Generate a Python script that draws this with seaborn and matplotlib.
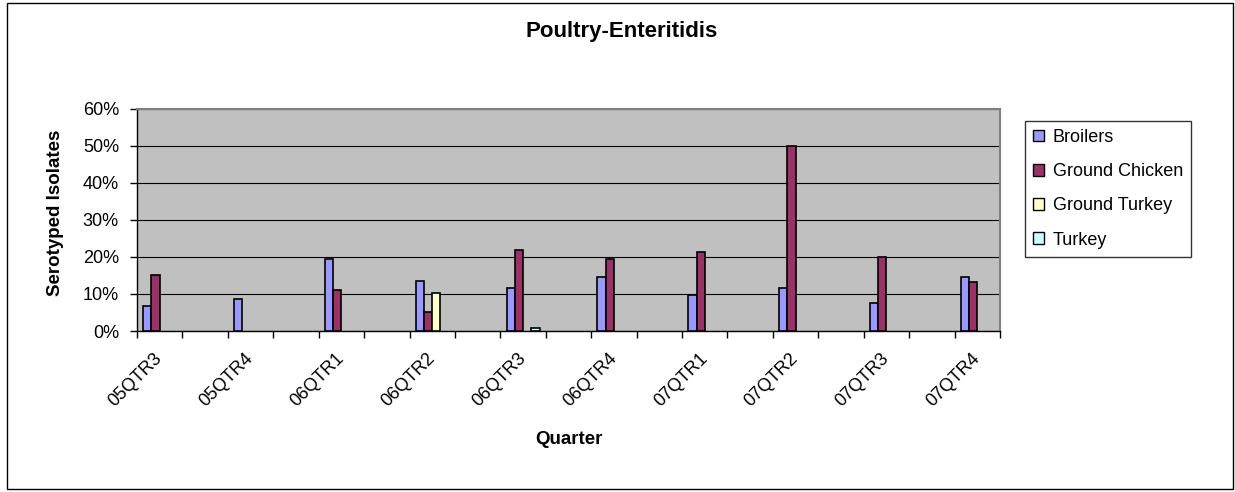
import matplotlib
matplotlib.use("Agg")
import matplotlib.pyplot as plt
import matplotlib.patches as mpatches
from matplotlib.ticker import PercentFormatter, FixedLocator, MultipleLocator
import numpy as np
import pandas as pd
import seaborn as sns

# ---- data (percent of serotyped isolates) ----
quarters = ["05QTR3", "05QTR4", "06QTR1", "06QTR2", "06QTR3",
            "06QTR4", "07QTR1", "07QTR2", "07QTR3", "07QTR4"]
broilers = [6.7, 8.6, 19.5, 13.6, 11.6, 14.6, 9.7, 11.6, 7.7, 14.6]
ground_chicken = [15.1, 0.0, 11.1, 5.2, 21.9, 19.5, 21.4, 50.0, 20.1, 13.2]
ground_turkey = [0.0, 0.0, 0.0, 10.2, 0.0, 0.0, 0.0, 0.0, 0.0, 0.0]
turkey = [0.0, 0.0, 0.0, 0.0, 0.8, 0.0, 0.0, 0.0, 0.0, 0.0]
series_names = ["Broilers", "Ground Chicken", "Ground Turkey", "Turkey"]
series_colors = ["#9999FF", "#993366", "#FFFFCC", "#CCFFFF"]

# category axis: each quarter followed by an unlabeled empty slot
order = []
for i, q in enumerate(quarters):
    order.append(q)
    if i < len(quarters) - 1:
        order.append(f"_gap{i}")

rows = []
for name, vals in zip(series_names, [broilers, ground_chicken, ground_turkey, turkey]):
    for q, v in zip(quarters, vals):
        if v > 0:
            rows.append({"Quarter": q, "Series": name, "Value": v})
df = pd.DataFrame(rows)

sns.set_theme(style="white")
plt.rcParams["font.family"] = ["Liberation Sans", "DejaVu Sans"]
plt.rcParams["text.color"] = "black"
plt.rcParams["axes.labelcolor"] = "black"
plt.rcParams["xtick.color"] = "black"
plt.rcParams["ytick.color"] = "black"

W, H = 1235, 492
fig = plt.figure(figsize=(W / 100, H / 100), dpi=100)
fig.patch.set_facecolor("white")

# outer chart border
fig.patches.append(mpatches.Rectangle((7 / W, 1 - 489 / H), (1233 - 7) / W, (489 - 3) / H,
                                      transform=fig.transFigure, fill=False,
                                      edgecolor="black", linewidth=1.0))

ax = fig.add_axes([137 / W, 1 - 331 / H, (1000 - 137) / W, (331 - 109) / H])
ax.set_facecolor("#C0C0C0")

sns.barplot(data=df, x="Quarter", y="Value", hue="Series", order=order,
            hue_order=series_names, palette=dict(zip(series_names, series_colors)),
            width=4 / 5.5, edgecolor="black", linewidth=1.2, saturation=1,
            errorbar=None, ax=ax, zorder=3)

ax.set_xlim(-0.5, len(order) - 0.5)
ax.set_ylim(0, 60)
ax.yaxis.set_major_locator(MultipleLocator(10))
ax.yaxis.set_major_formatter(PercentFormatter(xmax=100, decimals=0))
ax.grid(axis="y", color="black", linewidth=0.8, zorder=1)
ax.set_axisbelow(True)

# x ticks: labels only on quarter slots, tick marks on category boundaries
label_pos = [order.index(q) for q in quarters]
ax.xaxis.set_major_locator(FixedLocator(label_pos))
ax.set_xticklabels(quarters, rotation=45, ha="right", va="center",
                   rotation_mode="anchor", fontsize=13)
ax.xaxis.set_minor_locator(FixedLocator(np.arange(-0.5, len(order), 1.0)))
ax.tick_params(axis="x", which="major", length=0, pad=18)
ax.tick_params(axis="x", which="minor", length=5, width=1, color="black",
               direction="out", bottom=True)
ax.tick_params(axis="y", which="major", length=5, width=1, color="black",
               direction="out", left=True, labelsize=13, pad=8)

for s in ["left", "bottom"]:
    ax.spines[s].set_color("black")
    ax.spines[s].set_linewidth(1.0)
for s in ["top", "right"]:
    ax.spines[s].set_color("#808080")
    ax.spines[s].set_linewidth(1.5)

ax.set_xlabel("Quarter", fontsize=13.5, fontweight="bold")
ax.xaxis.set_label_coords(0.5, (331 - 431) / 222)
ax.set_ylabel("Serotyped Isolates", fontsize=13.5, fontweight="bold")
ax.yaxis.set_label_coords((64 - 137) / 863, (331 - 213) / 222)

fig.text(622 / W, 1 - 32 / H, "Poultry-Enteritidis", ha="center", va="center",
         fontsize=16, fontweight="bold")

handles, labels = ax.get_legend_handles_labels()
ax.get_legend().remove()
leg = fig.legend(handles, labels, loc="upper left",
                 bbox_to_anchor=(1025 / W, 1 - 121 / H),
                 frameon=True, fancybox=False, shadow=False, fontsize=13,
                 handlelength=0.6, handleheight=0.6, handletextpad=0.5,
                 labelspacing=0.95, borderpad=0.45, borderaxespad=0)
leg.get_frame().set_edgecolor("black")
leg.get_frame().set_linewidth(1.0)
for h in leg.legend_handles:
    h.set_edgecolor("black")
    h.set_linewidth(1.0)

fig.savefig("out.png", dpi=100, facecolor="white")
